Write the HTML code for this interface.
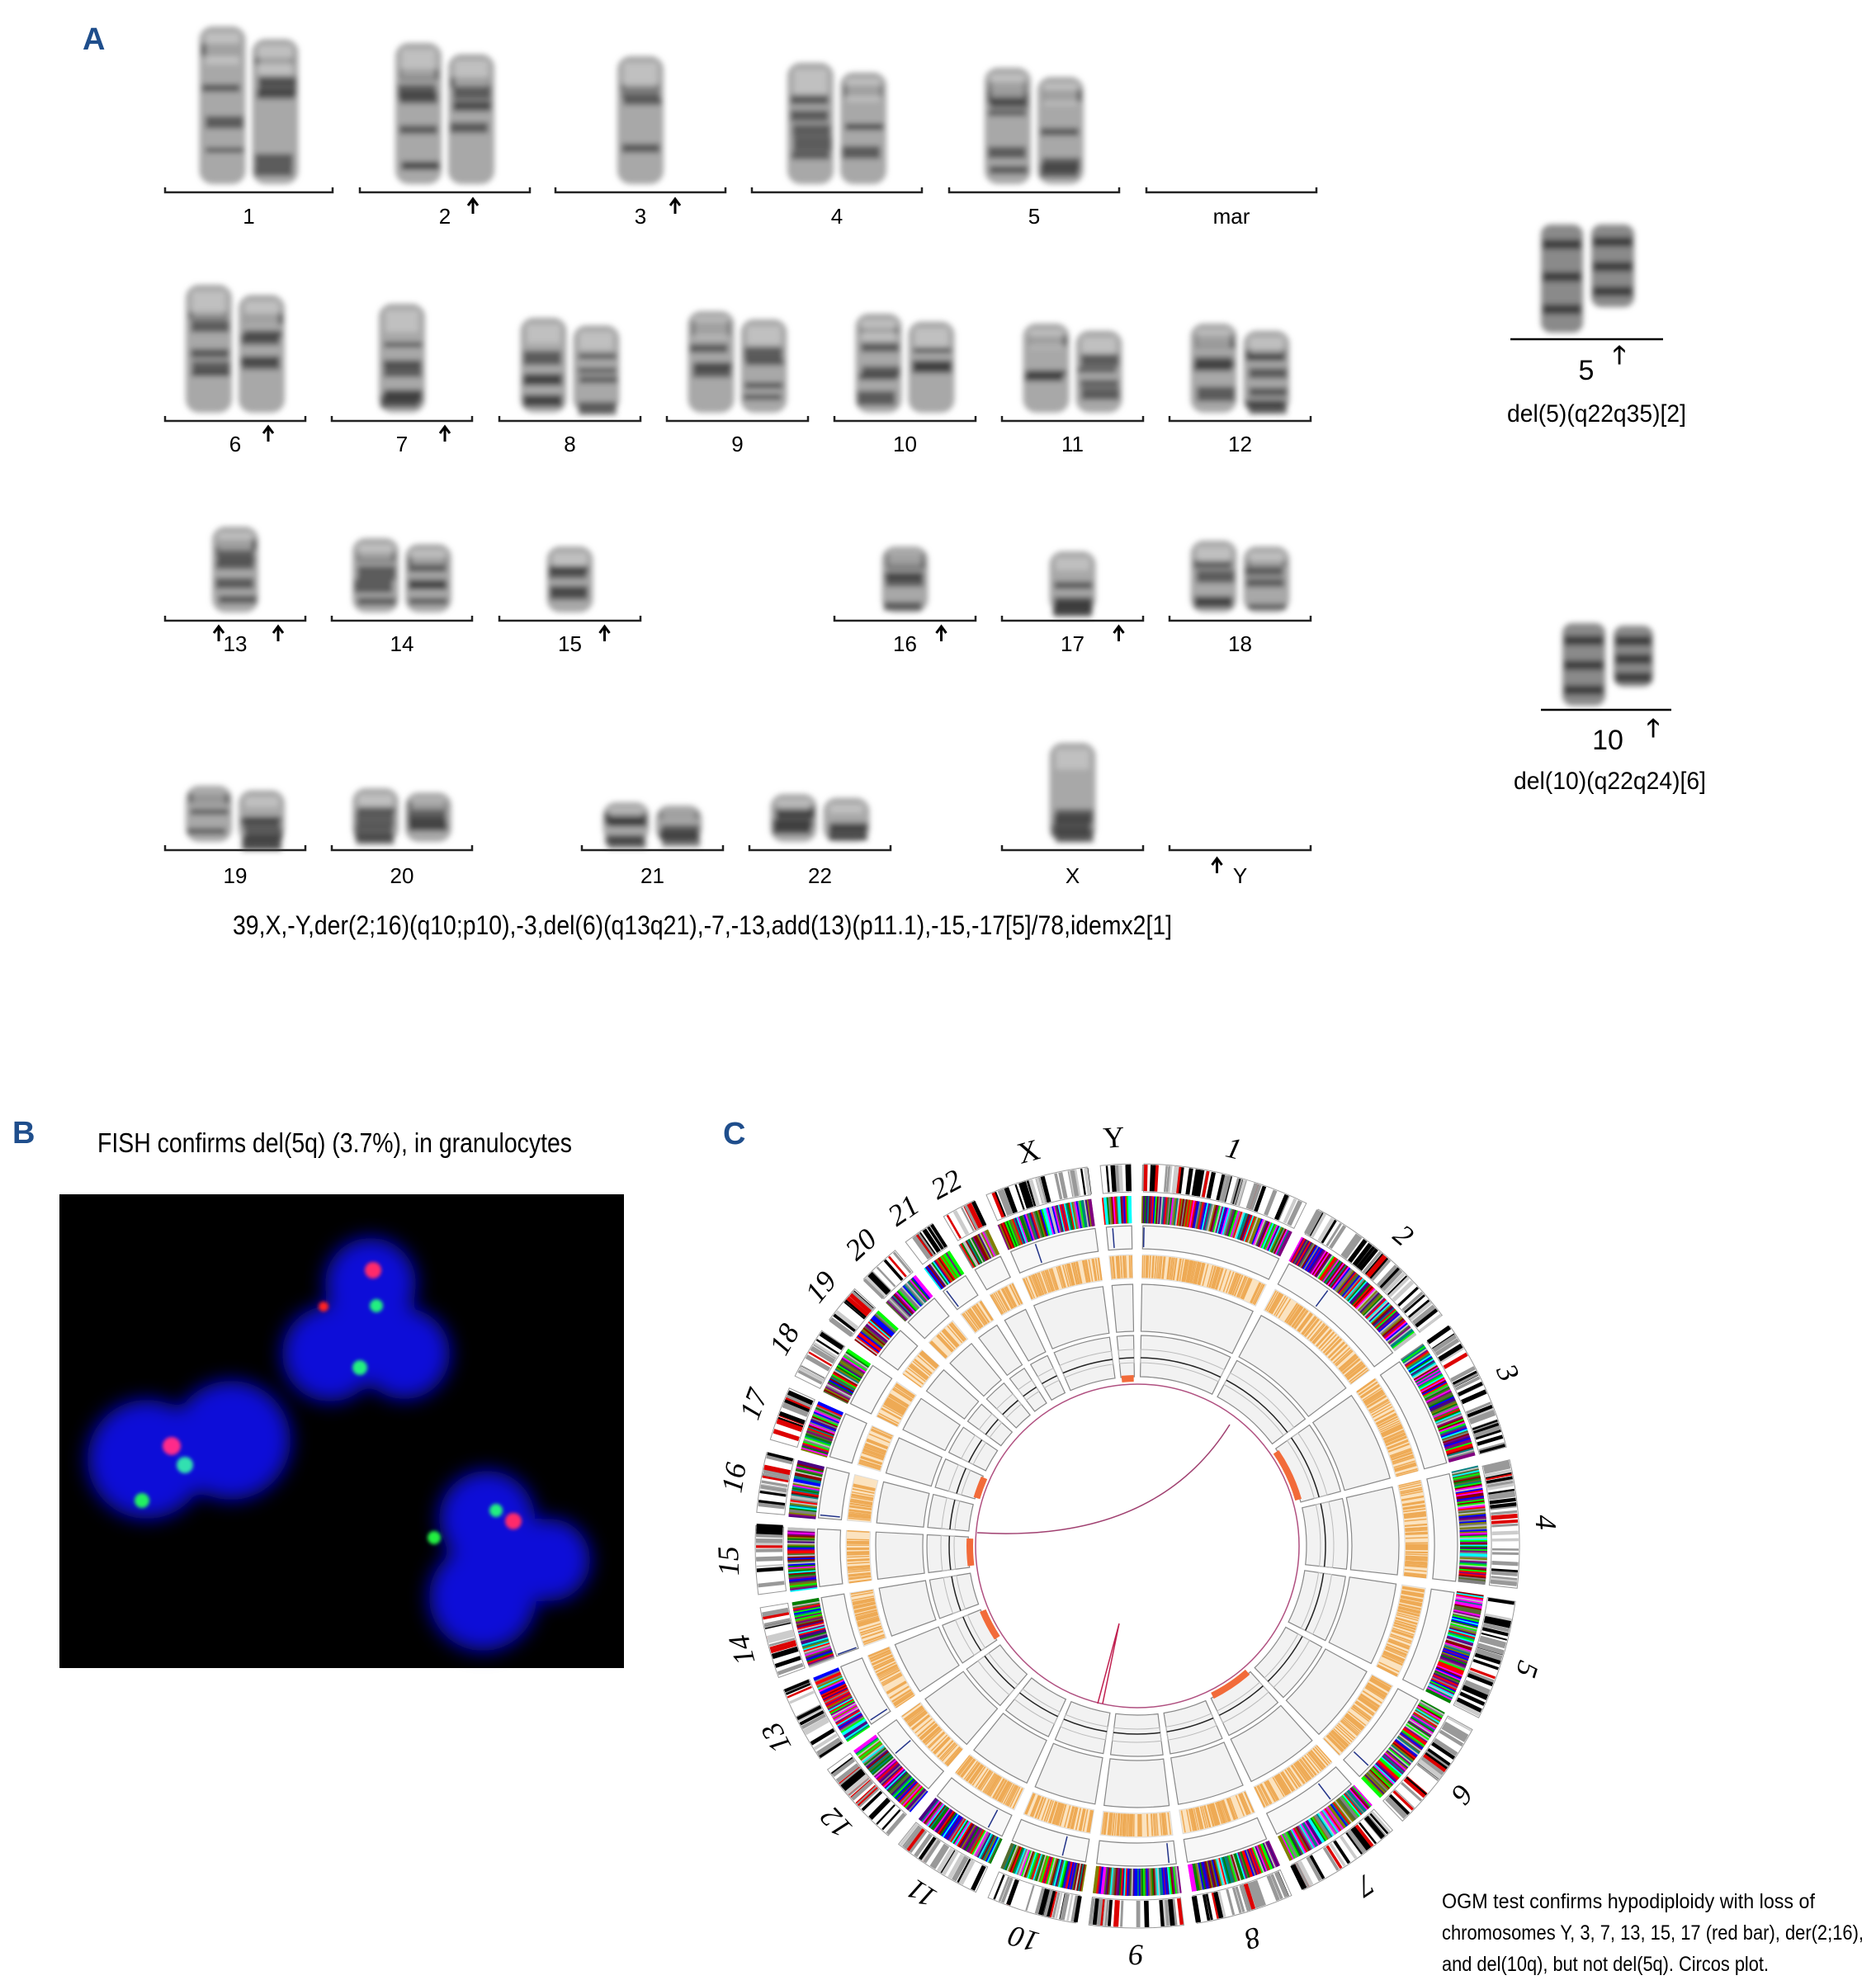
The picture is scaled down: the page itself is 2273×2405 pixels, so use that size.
<!DOCTYPE html>
<html><head><meta charset="utf-8">
<style>
html,body{margin:0;padding:0;background:#fff;}
svg{display:block;}
text{font-family:"Liberation Sans",sans-serif;}
text.ser{font-family:"Liberation Serif",serif;}
</style></head>
<body>
<svg id="s" xmlns="http://www.w3.org/2000/svg" width="2273" height="2405" viewBox="0 0 2273 2405">
<defs>
<filter id="bl" x="-30%" y="-30%" width="160%" height="160%"><feGaussianBlur stdDeviation="3.5"/></filter>
<filter id="bl2" x="-50%" y="-50%" width="200%" height="200%"><feGaussianBlur stdDeviation="12"/></filter>
<filter id="bl3" x="-50%" y="-50%" width="200%" height="200%"><feGaussianBlur stdDeviation="2"/></filter>
</defs>
<text x="100" y="60" font-size="38" font-weight="bold" fill="#1f4e8c">A</text>
<g id="kary"></g>
<text x="282" y="1132" font-size="32" textLength="1138" lengthAdjust="spacingAndGlyphs">39,X,-Y,der(2;16)(q10;p10),-3,del(6)(q13q21),-7,-13,add(13)(p11.1),-15,-17[5]/78,idemx2[1]</text>

<line x1="1830" y1="411" x2="2015" y2="411" stroke="#000" stroke-width="2.5"/>
<text x="1922" y="460" font-size="34" text-anchor="middle">5</text>
<text x="1962" y="440" font-size="30" font-weight="bold" text-anchor="middle">🡑</text>
<text x="1826" y="511" font-size="30" textLength="217" lengthAdjust="spacingAndGlyphs">del(5)(q22q35)[2]</text>
<line x1="1867" y1="860" x2="2025" y2="860" stroke="#000" stroke-width="2.5"/>
<text x="1948" y="908" font-size="34" text-anchor="middle">10</text>
<text x="2003" y="892" font-size="30" font-weight="bold" text-anchor="middle">🡑</text>
<text x="1834" y="956" font-size="30" textLength="233" lengthAdjust="spacingAndGlyphs">del(10)(q22q24)[6]</text>

<text x="15" y="1385" font-size="38" font-weight="bold" fill="#1f4e8c">B</text>
<text x="118" y="1396" font-size="33" textLength="575" lengthAdjust="spacingAndGlyphs">FISH confirms del(5q) (3.7%), in granulocytes</text>
<rect x="72" y="1447" width="684" height="574" fill="#000"/>
<g id="fish"></g>

<text x="876" y="1386" font-size="38" font-weight="bold" fill="#1f4e8c">C</text>
<g id="circos"></g>

<text x="1747" y="2312" font-size="25" textLength="452" lengthAdjust="spacingAndGlyphs">OGM test confirms hypodiploidy with loss of</text>
<text x="1747" y="2350" font-size="25" textLength="511" lengthAdjust="spacingAndGlyphs">chromosomes Y, 3, 7, 13, 15, 17 (red bar), der(2;16),</text>
<text x="1747" y="2388" font-size="25" textLength="396" lengthAdjust="spacingAndGlyphs">and del(10q), but not del(5q). Circos plot.</text>
</svg>
<script>
(function(){
var NS="http://www.w3.org/2000/svg";
function el(tag,attrs,parent,txt){var e=document.createElementNS(NS,tag);for(var k in attrs)e.setAttribute(k,attrs[k]);if(txt!==undefined)e.textContent=txt;parent.appendChild(e);return e;}
var seed=12345;function rnd(){seed=(seed*16807)%2147483647;return (seed-1)/2147483646;}
function arrow(par,x,y,s){ // upward arrow, tip at (x,y)
  s=s||1;
  el('path',{d:'M'+x+' '+(y+18*s)+'V'+(y+2*s)+'M'+(x-6*s)+' '+(y+8*s)+'L'+x+' '+y+'L'+(x+6*s)+' '+(y+8*s),fill:'none',stroke:'#000','stroke-width':3*s},par);
}

/* ---------- Karyotype ---------- */
var K=document.getElementById('kary');
var rows=[
 [200,403,233,'1',2,32],[436,642,233,'2',2,52,[34]],[673,879,233,'3',1,68,[42]],[911,1117,233,'4',2,76],[1150,1356,233,'5',2,82],[1389,1595,233,'mar',0,0],
 [200,370,510,'6',2,345,[40]],[402,572,510,'7',1,368,[52]],[605,776,510,'8',2,385],[808,979,510,'9',2,377],[1011,1182,510,'10',2,380],[1214,1385,510,'11',2,392],[1417,1588,510,'12',2,392],
 [200,370,752,'13',1,638,[-20,52]],[402,572,752,'14',2,652,],[605,776,752,'15',1,662,[42]],[1011,1182,752,'16',1,662,[44]],[1214,1385,752,'17',1,668,[56]],[1417,1588,752,'18',2,655],
 [200,370,1030,'19',2,952],[402,572,1030,'20',2,955],[705,876,1030,'21',2,972],[908,1079,1030,'22',2,962],[1214,1385,1030,'X',1,900],[1417,1588,1030,'Y',0,0,[-28]]
];
rows.forEach(function(r){
  var x1=r[0],x2=r[1],y=r[2];
  el('path',{d:'M'+x1+' '+(y-6)+'V'+y+'H'+x2+'V'+(y-6),fill:'none',stroke:'#222','stroke-width':2.5},K);
  var cx=(x1+x2)/2, ly=y+(y==233?38:(y==510?37:(y==752?37:40)));
  el('text',{x:cx,y:ly,'font-size':26,'text-anchor':'middle'},K,r[3]);
  if(r[6]) r[6].forEach(function(o){arrow(K,cx+o,ly-30,1);});
  var n=r[4]; if(!n) return;
  var top=r[5], bot=y-10, w=56;
  var xs = n==2 ? [cx-32,cx+32] : [cx];
  xs.forEach(function(xc,i){
    var t=top+(i==1?(bot-top)*0.08:0);
    var g=el('g',{filter:'url(#bl)'},K);
    el('rect',{x:xc-w/2,y:t,width:w,height:bot-t,rx:16,fill:'#a8a8a8'},g);
    var nb=4+Math.floor(rnd()*3);
    for(var b=0;b<nb;b++){
      var by=t+(bot-t)*(0.1+0.8*rnd());
      el('rect',{x:xc-w/2+2+rnd()*6,y:by,width:w-10,height:6+rnd()*12,fill:'#3a3a3a',opacity:0.7},g);
    }
    el('rect',{x:xc-w/2+8,y:t+8,width:w-16,height:(bot-t)*0.2,fill:'#d0d0d0',opacity:0.6},g);
  });
});
[[1867,1918,272,403],[1928,1980,272,372],[1893,1945,755,855],[1955,2003,758,832]].forEach(function(c){
  var g=el('g',{filter:'url(#bl)'},K);
  el('rect',{x:c[0],y:c[2],width:c[1]-c[0],height:c[3]-c[2],rx:12,fill:'#8a8a8a'},g);
  for(var b=0;b<3;b++){el('rect',{x:c[0]+2,y:c[2]+(c[3]-c[2])*(0.1+0.3*b)+5,width:c[1]-c[0]-4,height:12,fill:'#333',opacity:0.85},g);}
});

/* ---------- FISH ---------- */
var F=document.getElementById('fish');
var gb=el('g',{filter:'url(#bl2)'},F);
[[449,1555,55],[400,1640,58],[490,1640,55],[449,1615,45],
 [178,1768,72],[280,1745,72],[230,1760,50],
 [590,1840,58],[665,1890,50],[585,1935,65],[620,1890,45]].forEach(function(c){
  el('circle',{cx:c[0],cy:c[1],r:c[2],fill:'#1010d8'},gb);});
var gs=el('g',{filter:'url(#bl3)'},F);
[[452,1539,'#ff2a6a',10],[456,1582,'#20f080',8],[436,1657,'#20f080',9],[392,1583,'#ff2020',6],
 [208,1752,'#ff2a8a',11],[224,1775,'#30e0b0',10],[172,1818,'#20f060',9],
 [601,1830,'#20f080',8],[622,1843,'#ff2a6a',10],[526,1863,'#20f040',8]].forEach(function(s){
  el('circle',{cx:s[0],cy:s[1],r:s[3],fill:s[2]},gs);});

/* ---------- Circos ---------- */
var C=document.getElementById('circos');
var cx=1378, cy=1873;
function P(r,a){var t=a*Math.PI/180;return [cx+r*Math.sin(t),cy-r*Math.cos(t)];}
function ann(r1,r2,a1,a2){
  var l=(a2-a1)>180?1:0;var A=P(r2,a1),B=P(r2,a2),Cc=P(r1,a2),D=P(r1,a1);
  return 'M'+A[0].toFixed(1)+' '+A[1].toFixed(1)+'A'+r2+' '+r2+' 0 '+l+' 1 '+B[0].toFixed(1)+' '+B[1].toFixed(1)+
   'L'+Cc[0].toFixed(1)+' '+Cc[1].toFixed(1)+'A'+r1+' '+r1+' 0 '+l+' 0 '+D[0].toFixed(1)+' '+D[1].toFixed(1)+'Z';}
function rl(r1,r2,a,col,w,par){var A=P(r1,a),B=P(r2,a);el('line',{x1:A[0].toFixed(1),y1:A[1].toFixed(1),x2:B[0].toFixed(1),y2:B[1].toFixed(1),stroke:col,'stroke-width':w},par);}
var names=['1','2','3','4','5','6','7','8','9','10','11','12','13','14','15','16','17','18','19','20','21','22','X','Y'];
var lens=[249,243,198,191,181,171,159,146,141,135,135,133,115,107,102,90,81,78,59,63,48,51,155,45];
var tot=lens.reduce(function(a,b){return a+b;},0);
var gap=2.0, avail=360-24*gap, a=gap/2;
var pal=['#8b0000','#008000','#0000ff','#ff00ff','#00ffff','#808000','#808080','#00ff00','#800080','#c0c0c0','#008080','#ff0000','#4b0082','#556b2f'];
var loss={'3':1,'7':1,'13':1,'15':1,'17':1,'Y':1};
names.forEach(function(nm,i){
  var a1=a, a2=a+lens[i]/tot*avail; a=a2+gap;
  var span=a2-a1;
  el('path',{d:ann(429,463,a1,a2),fill:'#fff',stroke:'#999','stroke-width':1},C);
  var n=Math.floor(span*1.8);
  for(var k=0;k<n;k++){var aa=a1+span*rnd();var v=rnd();var col=v<0.35?'#000':(v<0.75?'#999':(v<0.85?'#d00':'#ccc'));rl(430,462,aa,col,2+rnd()*4,C);}
  el('path',{d:ann(391,424,a1,a2),fill:'#777'},C);
  var m=Math.floor(span*4);
  for(var k=0;k<m;k++){var aa=a1+span*k/m;rl(391,424,aa,pal[Math.floor(rnd()*pal.length)],4,C);}
  el('path',{d:ann(360,388,a1,a2),fill:'#f7f7f7',stroke:'#888','stroke-width':1.2},C);
  if(rnd()<0.7) rl(362,386,a1+span*rnd(),'#223388',1.5,C);
  el('path',{d:ann(324,353,a1,a2),fill:'#fbe3c0',stroke:'#ddd','stroke-width':1},C);
  var o=Math.floor(span*4);
  for(var k=0;k<o;k++){rl(325,352,a1+span*rnd(),'#eeaa55',1.5,C);}
  el('path',{d:ann(260,317,a1,a2),fill:'#f2f2f2',stroke:'#888','stroke-width':1.2},C);
  el('path',{d:ann(205,255,a1,a2),fill:'#f2f2f2',stroke:'#888','stroke-width':1.2},C);
  el('path',{d:ann(222,238,a1,a2),fill:'none',stroke:'#bbb','stroke-width':1},C);
  var L1=P(228,a1),L2=P(228,a2);
  el('path',{d:'M'+L1[0]+' '+L1[1]+'A228 228 0 0 1 '+L2[0]+' '+L2[1],fill:'none',stroke:'#222','stroke-width':1.5},C);
  if(loss[nm]) el('path',{d:ann(199,207,a1+span*0.05,a2-span*0.05),fill:'#f26b3a'},C);
  var mid=(a1+a2)/2, lp=P(492,mid);
  el('text',{'class':'ser',x:lp[0].toFixed(1),y:lp[1].toFixed(1),'font-size':36,'font-style':(nm=='X'||nm=='Y')?'normal':'italic','text-anchor':'middle','dominant-baseline':'middle',transform:'rotate('+mid.toFixed(1)+' '+lp[0].toFixed(1)+' '+lp[1].toFixed(1)+')'},C,nm);
});
el('circle',{cx:cx,cy:cy,r:196,fill:'none',stroke:'#b05080','stroke-width':1.5},C);
el('path',{d:'M1490 1726 Q1400 1870 1184 1857',fill:'none',stroke:'#a04070','stroke-width':1.5},C);
el('path',{d:'M1356 1967 L1330 2064 M1356 1967 L1336 2064',fill:'none',stroke:'#c02050','stroke-width':1.5},C);
})();
</script>
</body></html>
